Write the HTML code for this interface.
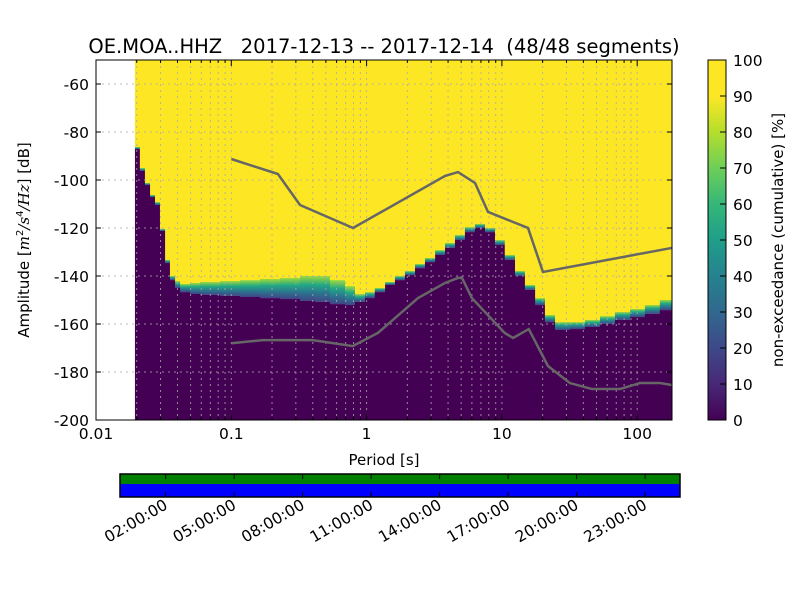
<!DOCTYPE html>
<html><head><meta charset="utf-8"><style>
body{margin:0;background:#fff;}
svg text{font-family:"DejaVu Sans","Liberation Sans",sans-serif;fill:#000;}
</style></head><body>
<svg id="s" width="800" height="600" xmlns="http://www.w3.org/2000/svg">
<defs>
<linearGradient id="trans" x1="0" y1="1" x2="0" y2="0">
<stop offset="0" stop-color="#414487"/><stop offset="0.35" stop-color="#2a788e"/><stop offset="0.65" stop-color="#22a884"/><stop offset="1" stop-color="#a0da39"/>
</linearGradient>
<linearGradient id="vir" x1="0" y1="1" x2="0" y2="0">
<stop offset="0" stop-color="#440154"/><stop offset="0.1" stop-color="#482878"/><stop offset="0.2" stop-color="#3e4989"/><stop offset="0.3" stop-color="#31688e"/><stop offset="0.4" stop-color="#26828e"/><stop offset="0.5" stop-color="#1f9e89"/><stop offset="0.6" stop-color="#35b779"/><stop offset="0.7" stop-color="#6ece58"/><stop offset="0.8" stop-color="#b5de2b"/><stop offset="0.9" stop-color="#fde725"/><stop offset="1" stop-color="#fde725"/>
</linearGradient>
</defs>
<g id="plot"></g>
<text x="384" y="53" font-size="19.5" text-anchor="middle" xml:space="preserve" style="white-space:pre">OE.MOA..HHZ   2017-12-13 -- 2017-12-14  (48/48 segments)</text>
<text x="384" y="465" font-size="15" text-anchor="middle">Period [s]</text>
<text transform="translate(29,240) rotate(-90)" font-size="15" text-anchor="middle">Amplitude [<tspan font-style="italic" font-family="DejaVu Serif">m</tspan><tspan font-size="10" dy="-6">2</tspan><tspan dy="6" font-style="italic" font-family="DejaVu Serif">/s</tspan><tspan font-size="10" dy="-6">4</tspan><tspan dy="6" font-style="italic" font-family="DejaVu Serif">/Hz</tspan>] [dB]</text>
<rect x="708" y="60" width="18" height="360" fill="url(#vir)" stroke="#000"/>
<text transform="translate(783,240) rotate(-90)" font-size="15" text-anchor="middle">non-exceedance (cumulative) [%]</text>
<g id="cb"></g>
<g>
<rect x="120" y="474" width="560" height="10" fill="#008000"/>
<rect x="120" y="484" width="560" height="13" fill="#0000ff"/>
<rect x="120" y="474" width="560" height="23" fill="none" stroke="#000" stroke-width="1.5"/>
</g>
<g id="tl"></g>
</svg>
<script>
const periods=[0.0194,0.0211,0.0230,0.0251,0.0273,0.0297,0.0324,0.0352,0.0384,0.0418,0.0495,0.0587,0.0825,0.116,0.163,0.229,0.322,0.416,0.536,0.692,0.821,0.973,1.15,1.37,1.62,1.92,2.28,2.70,3.21,3.80,4.50,5.33,6.32,7.50,8.89,10.5,12.5,14.8,17.6,20.8,24.7,31.8,41.1,53.1,68.5,88.5,114,147,180];
const purpleTop=[-87.1,-96.25,-102.1,-107.1,-110.4,-121.25,-134.6,-141.7,-145,-146.7,-147.5,-147.9,-148.3,-148.75,-149.2,-149.6,-150.4,-150.8,-151.7,-152.1,-150.8,-149.2,-146.7,-143.75,-141.7,-139.6,-136.7,-134.2,-131.25,-128.3,-125,-121.7,-120,-121.7,-127.1,-133.3,-140,-145.8,-152.1,-159.2,-162.5,-162.1,-161.25,-160,-158.3,-157.1,-155.8,-154.2];
const yellowBottom=[-86.25,-95,-101.25,-106.25,-109.2,-120.4,-133.3,-140,-142.1,-143.3,-142.9,-142.5,-142.1,-141.7,-141.25,-140.8,-140,-140,-141.7,-144.2,-147.5,-146.7,-145,-142.5,-140,-137.9,-135,-132.5,-129.2,-126.25,-122.9,-119.6,-118.3,-120,-125,-131.25,-137.9,-143.75,-149.2,-156.25,-159.2,-159.2,-158.3,-156.7,-155,-153.75,-152.1,-150];
const nhnmP=[0.1,0.221,0.322,0.794,3.8,4.74,6.33,7.89,15.6,20.1,180];
const nhnmDb=[-91.25,-97.5,-110.4,-120,-98.3,-96.7,-101.25,-113.3,-120,-138.3,-128.3];
const nlnmP=[0.1,0.171,0.40,0.79,1.21,2.4,3.8,4.74,5.07,6.0,10.5,12.1,15.8,21.9,31.8,46.3,74.6,105,147,180];
const nlnmDb=[-168,-166.7,-166.7,-169.2,-163.75,-149.2,-142.9,-140.8,-140.8,-149.2,-163.75,-165.8,-162.1,-177.5,-184.6,-187.1,-187.1,-184.6,-184.6,-185.4];
const yTicks=[-60,-80,-100,-120,-140,-160,-180,-200];
const xTicks=[0.01,0.1,1,10,100];
const xTickLabels=["0.01","0.1","1","10","100"];
const cbTicks=[0,10,20,30,40,50,60,70,80,90,100];
const timeLabels=["02:00:00","05:00:00","08:00:00","11:00:00","14:00:00","17:00:00","20:00:00","23:00:00"];
const timeHours=[2,5,8,11,14,17,20,23];

const L=96,R=672,T=60,B=420;
const X=p=>L+(Math.log10(p)+2)*135.3;
const Y=d=>B-(d+200)*2.4;
const NS="http://www.w3.org/2000/svg";
function mk(tag,attrs,parent){const e=document.createElementNS(NS,tag);for(const k in attrs)e.setAttribute(k,attrs[k]);parent.appendChild(e);return e;}
const g=document.getElementById('plot');
mk('rect',{x:L,y:T,width:R-L,height:B-T,fill:'#fff'},g);
const cp=mk('clipPath',{id:'cp'},g);mk('rect',{x:L,y:T,width:R-L,height:B-T},cp);
const hg=mk('g',{'clip-path':'url(#cp)'},g);


for(let i=0;i<periods.length-1;i++){
  const x0=X(periods[i]),x1=X(periods[i+1]);
  const w=x1-x0+0.5;
  const yb=Y(yellowBottom[i]),yp=Y(purpleTop[i]);
  let r=mk('rect',{x:x0,y:T,width:w,height:yb-T,fill:'#fde725'},hg);
  
  
  r=mk('rect',{x:x0,y:yb,width:w,height:Math.max(0,yp-yb),fill:'url(#trans)'},hg);
  
  
  r=mk('rect',{x:x0,y:yp,width:w,height:B-yp,fill:'#440154'},hg);
  
  
}
const gg=mk('g',{stroke:'#aaa','stroke-width':1,'stroke-dasharray':'2,4','stroke-opacity':0.8},g);


for(let dec=-2;dec<=2;dec++)for(let m=1;m<10;m++){const x=X(m*Math.pow(10,dec));if(x>L&&x<R)mk('line',{x1:x,x2:x,y1:T,y2:B},gg);}
yTicks.forEach(d=>{const y=Y(d);if(y>T&&y<B)mk('line',{x1:L,x2:R,y1:y,y2:y},gg);});
function line(ps,ds,name){let s='';ps.forEach((p,i)=>s+=(i?'L':'M')+X(p)+','+Y(ds[i]));const e=mk('path',{d:s,fill:'none',stroke:'#666','stroke-width':2.5,'clip-path':'url(#cp)'},g);

}
line(nhnmP,nhnmDb,'nhnm-line');line(nlnmP,nlnmDb,'nlnm-line');
mk('rect',{x:L,y:T,width:R-L,height:B-T,fill:'none',stroke:'#000','stroke-width':1},g);
yTicks.forEach(d=>{const y=Y(d);mk('line',{x1:L,x2:L+5,y1:y,y2:y,stroke:'#000'},g);mk('line',{x1:R,x2:R-5,y1:y,y2:y,stroke:'#000'},g);
const t=mk('text',{x:L-7,y:y+6,'font-size':15.5,'text-anchor':'end'},g);t.textContent=d;

});
xTicks.forEach((p,i)=>{const x=X(p);mk('line',{x1:x,x2:x,y1:B,y2:B-6,stroke:'#000'},g);mk('line',{x1:x,x2:x,y1:T,y2:T+6,stroke:'#000'},g);
const t=mk('text',{x:x,y:B+19,'font-size':15.5,'text-anchor':'middle'},g);t.textContent=xTickLabels[i];

});
for(let dec=-2;dec<=2;dec++)for(let m=2;m<10;m++){const x=X(m*Math.pow(10,dec));if(x>L&&x<R){mk('line',{x1:x,x2:x,y1:B,y2:B-3,stroke:'#000'},g);mk('line',{x1:x,x2:x,y1:T,y2:T+3,stroke:'#000'},g);}}
const cb=document.getElementById('cb');
cbTicks.forEach(v=>{const y=420-v*3.6;mk('line',{x1:720,x2:726,y1:y,y2:y,stroke:'#000'},cb);
const t=mk('text',{x:733,y:y+6,'font-size':15.5},cb);t.textContent=v;

});
const tl=document.getElementById('tl');
timeHours.forEach((h,i)=>{const x=120+h*22.83;mk('line',{x1:x,x2:x,y1:474,y2:479,stroke:'#000'},tl);mk('line',{x1:x,x2:x,y1:492,y2:497,stroke:'#000'},tl);
const t=mk('text',{transform:`translate(${x+3},${508}) rotate(-30)`,'font-size':15.5,'text-anchor':'end'},tl);t.textContent=timeLabels[i];

});
</script>
</body></html>
